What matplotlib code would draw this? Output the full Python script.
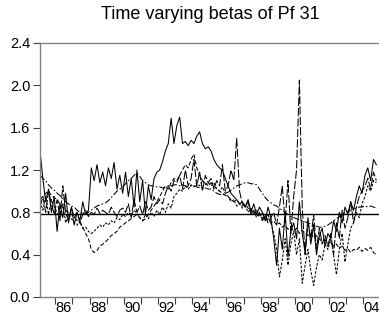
import numpy as np
import matplotlib
matplotlib.use("Agg")
import matplotlib.pyplot as plt

# bimonthly observations, Feb 1985 .. Oct 2004
years = 1985.1 + np.arange(119) / 6.0

beta_solid = [
    1.38, 1.12, 0.90, 1.02, 0.80, 0.95,
    0.62, 0.88, 0.75, 0.98, 0.70, 0.85,
    0.68, 0.80, 0.72, 0.90, 0.78, 0.82,
    1.22, 1.10, 1.25, 1.08, 1.18, 1.05,
    1.22, 1.12, 1.27, 1.02, 1.15, 0.98,
    1.18, 0.95, 1.12, 0.85, 1.20, 0.90,
    1.10, 0.78, 1.05, 0.92, 1.12, 1.18,
    1.20, 1.28, 1.38, 1.45, 1.69, 1.45,
    1.62, 1.70, 1.45, 1.47, 1.43, 1.48,
    1.45, 1.52, 1.56, 1.45, 1.40, 1.42,
    1.38, 1.30, 1.25, 1.22, 1.20, 1.12,
    1.05, 0.98, 0.95, 0.92, 0.88, 0.90,
    0.85, 0.92, 0.80, 0.88, 0.78, 0.85,
    0.80, 0.72, 0.85, 0.75, 0.55, 0.30,
    0.65, 0.45, 0.80, 0.38, 0.62, 0.70,
    0.55, 0.90, 0.60, 0.42, 0.75, 0.50,
    0.68, 0.40, 0.58, 0.65, 0.48, 0.60,
    0.55, 0.72, 0.62, 0.80, 0.70, 0.85,
    0.78, 0.90, 0.82, 0.95, 1.05, 0.98,
    1.15, 1.22, 1.10, 1.30, 1.25,
]

beta_dash = [
    0.92, 0.95, 0.98, 1.00, 0.96, 0.94,
    0.92, 0.88, 0.85, 0.82, 0.80, 0.78,
    0.76, 0.72, 0.70, 0.66, 0.60, 0.55,
    0.45, 0.42, 0.44, 0.48, 0.50, 0.52,
    0.55, 0.58, 0.60, 0.62, 0.66, 0.68,
    0.70, 0.72, 0.74, 0.76, 0.78, 0.75,
    0.72, 0.74, 0.78, 0.82, 0.86, 0.90,
    0.95, 1.00, 1.05, 1.02, 1.08, 1.12,
    1.10, 1.15, 1.20, 1.25, 1.22, 1.30,
    1.35, 1.22, 1.15, 1.10, 1.08, 1.05,
    1.08, 1.05, 1.02, 1.00, 0.98, 0.96,
    0.95, 0.92, 0.90, 0.92, 0.88, 0.86,
    0.88, 0.84, 0.82, 0.80, 0.78, 0.76,
    0.75, 0.72, 0.74, 0.70, 0.72, 0.68,
    0.70, 0.66, 0.68, 0.64, 0.66, 0.62,
    0.65, 0.60, 0.63, 0.60, 0.58, 0.60,
    0.56, 0.58, 0.55, 0.52, 0.54, 0.50,
    0.52, 0.48, 0.50, 0.46, 0.48, 0.44,
    0.46, 0.42, 0.45, 0.44, 0.47, 0.43,
    0.46, 0.44, 0.47, 0.42, 0.40,
]

beta_dashdot = [
    1.15, 1.12, 1.10, 1.06, 1.03, 1.01,
    0.98, 0.96, 0.93, 0.90, 0.88, 0.86,
    0.85, 0.82, 0.80, 0.79, 0.78, 0.80,
    0.82, 0.84, 0.86, 0.87, 0.88, 0.89,
    0.91, 0.94, 0.97, 1.00, 1.02, 1.04,
    1.07, 1.10, 1.12, 1.15, 1.17, 1.14,
    1.10, 1.08, 1.06, 1.05, 1.05, 1.04,
    1.04, 1.03, 1.04, 1.05, 1.05, 1.06,
    1.06, 1.05, 1.06, 1.05, 1.04, 1.05,
    1.05, 1.04, 1.03, 1.04, 1.03, 1.02,
    1.02, 1.00, 0.98, 0.97, 0.96, 0.98,
    0.99, 1.01, 1.03, 1.05, 1.06, 1.07,
    1.08, 1.08, 1.07, 1.07, 1.06, 1.02,
    0.98, 0.94, 0.91, 0.89, 0.87, 0.86,
    0.84, 0.82, 0.80, 0.78, 0.76, 0.75,
    0.74, 0.73, 0.72, 0.71, 0.70, 0.69,
    0.68, 0.67, 0.66, 0.66, 0.67, 0.68,
    0.70, 0.72, 0.74, 0.76, 0.78, 0.80,
    0.81, 0.82, 0.83, 0.84, 0.85, 0.85,
    0.86, 0.85, 0.86, 0.85, 0.84,
]

beta_longdash = [
    0.85, 0.95, 0.80, 1.00, 0.88, 0.78,
    0.92, 0.75, 1.05, 0.80, 0.72, 0.85,
    0.75, 0.80, 0.70, 0.78, 0.82, 0.76,
    0.80, 0.78, 0.84, 0.79, 0.82, 0.80,
    0.78, 0.85, 0.80, 0.76, 0.82, 0.84,
    0.80, 0.88, 0.75, 0.92, 0.80, 0.86,
    0.78, 0.90, 0.82, 0.85, 0.95, 0.88,
    0.92, 0.88, 0.98, 1.05, 1.00, 1.10,
    1.08, 1.15, 1.02, 1.20, 1.05, 1.12,
    1.30, 1.05, 1.18, 1.00, 1.15, 1.08,
    1.12, 1.02, 1.10, 1.05, 1.25, 1.00,
    1.05, 1.20, 1.10, 1.50, 1.00, 0.88,
    0.85, 0.90, 0.78, 0.82, 0.75, 0.80,
    0.72, 0.78, 0.70, 0.75, 0.80, 0.68,
    0.85, 1.05, 0.70, 1.10, 0.60, 0.95,
    1.20, 2.05, 0.85, 0.40, 0.70, 0.55,
    0.78, 0.45, 0.65, 0.50, 0.58, 0.48,
    0.60, 0.40, 0.70, 0.55, 0.82, 0.65,
    0.75, 0.90, 0.70, 0.85, 0.95, 1.00,
    1.05, 1.12, 1.02, 1.18, 1.10,
]

beta_shortdash = [
    0.90, 0.82, 0.95, 0.78, 0.92, 0.85,
    0.80, 0.72, 0.88, 0.70, 0.78, 0.74,
    0.70, 0.68, 0.72, 0.65, 0.66, 0.62,
    0.60, 0.62, 0.65, 0.68, 0.66, 0.70,
    0.68, 0.72, 0.70, 0.75, 0.73, 0.78,
    0.76, 0.80, 0.78, 0.82, 0.79, 0.75,
    0.72, 0.78, 0.74, 0.80, 0.76, 0.82,
    0.78, 0.85, 0.80, 0.88, 0.84, 0.95,
    0.98, 1.02, 1.00, 1.05, 1.02, 1.06,
    1.04, 1.08, 1.05, 1.10, 1.06, 1.08,
    1.05, 1.08, 1.02, 1.00, 1.04, 0.98,
    0.95, 0.90, 0.92, 0.86, 0.88, 0.84,
    0.86, 0.80, 0.84, 0.78, 0.82, 0.76,
    0.80, 0.74, 0.78, 0.70, 0.60, 0.45,
    0.19, 0.35, 0.55, 0.30, 0.50, 0.62,
    0.40, 0.55, 0.13, 0.30, 0.45, 0.25,
    0.11, 0.28, 0.40, 0.35, 0.50, 0.45,
    0.55, 0.40, 0.21, 0.45, 0.60, 0.33,
    0.50, 0.65, 0.70, 0.80, 0.75, 0.88,
    0.95, 1.05, 1.00, 1.10, 1.08,
]

mean_beta = 0.78
year_labels = ["86", "88", "90", "92", "94", "96", "98", "00", "02", "04"]
label_years = [1986, 1988, 1990, 1992, 1994, 1996, 1998, 2000, 2002, 2004]

plt.rcParams["font.family"] = ["Liberation Sans", "DejaVu Sans"]

fig = plt.figure(figsize=(3.79, 3.23), dpi=100)
ax = fig.add_axes([40 / 379, 1 - 297 / 323, 340 / 379, 254 / 323])

lw = 0.75
ax.plot(years, beta_solid, color="black", lw=lw)
ax.plot(years, beta_dash, color="black", lw=lw, dashes=(4, 2))
ax.plot(years, beta_dashdot, color="black", lw=lw, dashes=(6, 2, 1.5, 2))
ax.plot(years, beta_longdash, color="black", lw=lw, dashes=(8, 2))
ax.plot(years, beta_shortdash, color="black", lw=lw, dashes=(2.5, 1.5))
ax.axhline(mean_beta, color="black", lw=1.0)

ax.set_xlim(1985.1, 2004.98)
ax.set_ylim(0, 2.4)
ax.set_yticks([0.0, 0.4, 0.8, 1.2, 1.6, 2.0, 2.4])
ax.set_yticklabels(["0.0", "0.4", "0.8", "1.2", "1.6", "2.0", "2.4"])

# yearly ticks at year starts, labels centred in the year
ax.set_xticks(np.arange(1986, 2005))
ax.set_xticklabels([])
ax.set_xticks([y + 0.5 for y in label_years], minor=True)
ax.set_xticklabels(year_labels, minor=True)
ax.tick_params(axis="x", which="minor", length=0, pad=3)
ax.tick_params(axis="x", which="major", length=5, width=0.8, color="#404040")
ax.tick_params(axis="y", length=5, width=0.8, color="#404040", pad=2)
ax.tick_params(labelsize=10.5)
ax.tick_params(axis="x", which="minor", labelsize=10.5)

for side in ["left", "top", "bottom"]:
    ax.spines[side].set_color("#808080")
    ax.spines[side].set_linewidth(1.0)
ax.spines["right"].set_visible(False)

ax.set_title("Time varying betas of Pf 31", fontsize=13, pad=17)

fig.savefig("out.png", dpi=100)
